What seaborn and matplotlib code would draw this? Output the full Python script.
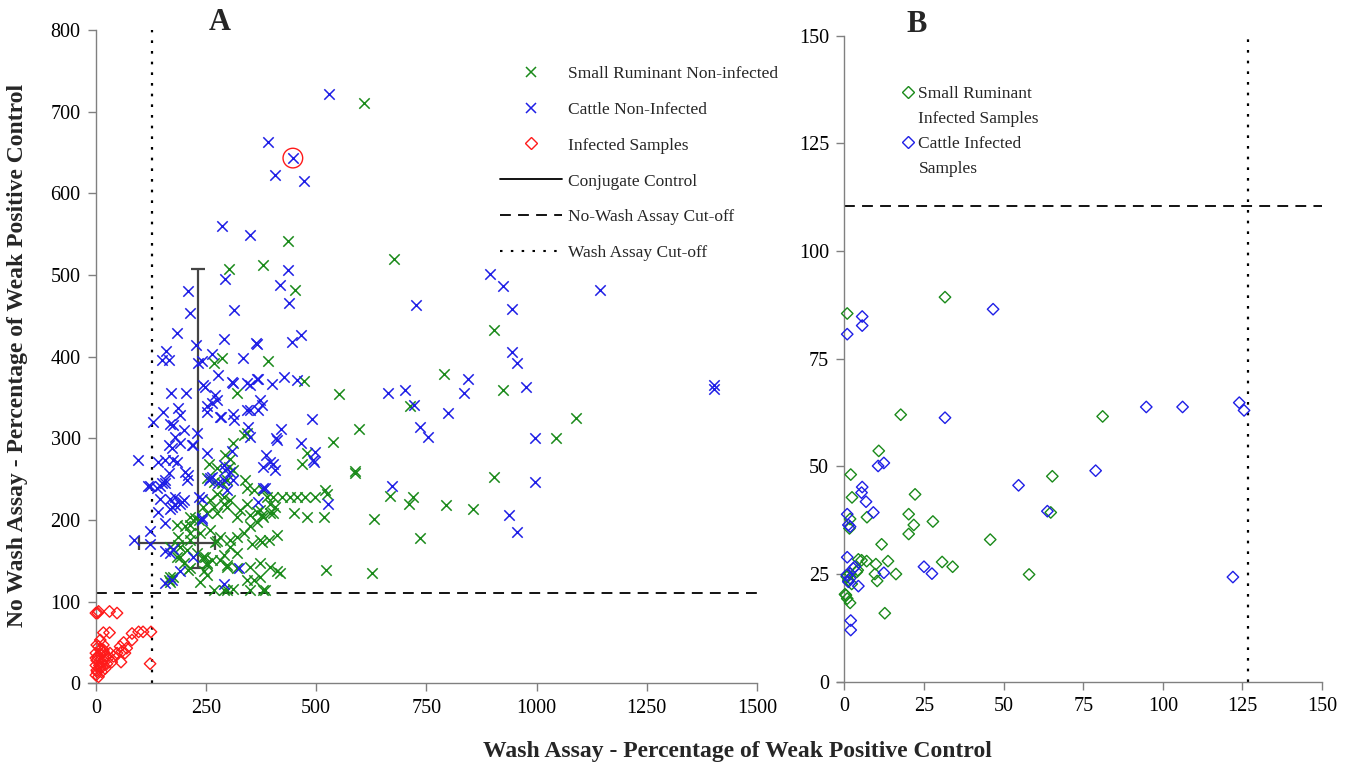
import matplotlib
matplotlib.use("Agg")
import matplotlib.pyplot as plt
import seaborn as sns
from matplotlib.lines import Line2D

# ---- Panel A data (wash %, no-wash %) ----
sr_non_x = [609, 435, 379, 301, 452, 677, 903, 390, 267, 286, 473, 791, 924, 551, 320,
            712, 596, 537, 903, 587, 589, 479, 468, 668, 710, 720, 794, 856, 736, 626,
            523, 632, 517, 479, 449, 520, 524, 498, 475, 456, 441, 422, 403, 388, 1045,
            1089, 403, 377, 365, 350, 411, 392, 377, 354, 350, 373, 395, 411, 418, 358,
            384, 350, 297, 312, 267, 320, 297, 290, 271, 275, 248, 252, 246, 214, 191,
            187, 184, 169, 165, 214, 225, 233, 312, 335, 343, 294, 305, 256, 275, 301,
            312, 252, 267, 286, 297, 339, 343, 358, 380, 275, 290, 305, 290, 297, 259,
            267, 252, 275, 244, 203, 214, 187, 214, 237, 259, 282, 305, 320, 335, 350,
            365, 380, 396, 327, 343, 320, 396, 407, 373, 191, 207, 229, 244, 169, 214,
            184, 199, 210, 252, 263, 297, 282, 305, 320, 373, 343, 373, 176, 169, 252,
            237, 290, 380]
sr_non_y = [711, 541, 512, 507, 482, 519, 432, 395, 392, 398, 370, 379, 359, 354, 356,
            339, 311, 296, 252, 258, 260, 282, 269, 229, 220, 228, 218, 213, 178, 135,
            139, 201, 204, 203, 208, 237, 232, 228, 228, 228, 228, 228, 228, 228, 300,
            325, 209, 206, 210, 206, 181, 175, 173, 171, 143, 147, 143, 137, 135, 126,
            114, 114, 114, 116, 114, 141, 145, 157, 173, 174, 155, 145, 137, 141, 155,
            169, 194, 130, 126, 204, 202, 200, 294, 304, 306, 279, 275, 269, 263, 265,
            261, 251, 247, 245, 249, 249, 239, 237, 237, 232, 228, 224, 220, 216, 224,
            216, 208, 208, 216, 192, 194, 179, 184, 184, 188, 179, 175, 179, 184, 192,
            198, 204, 208, 212, 220, 204, 220, 216, 212, 167, 163, 159, 155, 167, 175,
            155, 147, 139, 147, 151, 143, 151, 167, 159, 175, 126, 130, 130, 124, 132,
            124, 114, 114]

cattle_non_x = [530, 390, 447, 407, 473, 287, 349, 435, 294, 417, 208, 438, 726, 214, 314,
                924, 894, 945, 185, 291, 364, 366, 465, 444, 228, 160, 150, 167, 264, 232,
                241, 334, 945, 956, 277, 244, 247, 309, 312, 343, 349, 365, 369, 400, 427,
                456, 845, 836, 702, 664, 975, 170, 205, 271, 1145, 1403, 1403, 800, 736, 754,
                721, 490, 938, 956, 672, 527, 465, 498, 492, 494, 408, 410, 420, 387, 402,
                407, 384, 369, 325, 291, 346, 349, 312, 314, 282, 252, 275, 263, 373, 377,
                369, 350, 309, 290, 294, 290, 297, 263, 256, 278, 252, 233, 241, 996, 996,
                95, 129, 153, 187, 191, 169, 176, 199, 229, 165, 172, 191, 221, 142, 157,
                176, 203, 210, 207, 157, 165, 123, 146, 157, 146, 169, 180, 195, 172, 142,
                157, 122, 87, 122, 157, 169, 176, 191, 172, 157, 221, 252, 284, 343, 180,
                218, 184, 119, 138, 150, 180, 191, 169, 199, 241, 241, 305, 312, 260, 380,
                396, 380]
cattle_non_y = [722, 663, 643, 622, 615, 560, 549, 506, 495, 488, 480, 466, 463, 453, 457,
                486, 501, 458, 429, 422, 417, 415, 427, 418, 414, 407, 396, 396, 403, 392,
                394, 398, 405, 392, 377, 365, 363, 369, 368, 368, 365, 373, 372, 366, 375,
                371, 372, 356, 359, 355, 363, 355, 356, 353, 482, 365, 360, 331, 314, 301,
                341, 323, 206, 185, 242, 220, 294, 283, 273, 271, 300, 298, 311, 279, 269,
                261, 239, 222, 141, 122, 314, 302, 330, 322, 326, 332, 347, 343, 347, 341,
                335, 335, 284, 267, 261, 249, 237, 253, 249, 245, 282, 228, 200, 300, 246,
                274, 320, 332, 337, 328, 318, 316, 310, 306, 292, 288, 294, 292, 271, 273,
                273, 259, 255, 249, 249, 257, 241, 241, 245, 226, 226, 218, 222, 216, 210,
                196, 186, 176, 170, 162, 159, 165, 137, 126, 123, 155, 339, 326, 335, 302,
                292, 271, 241, 239, 245, 228, 220, 214, 224, 226, 202, 259, 249, 251, 265,
                271, 239]

infected_x = [0, 4, 6, 31, 48, 17, 31, 82, 97, 107, 125, 63, 82, 55, 70, 59, 66, 40, 48, 36,
              57, 123, 10, 6, 17, 0, 10, 21, 2, 13, 25, 0, 10, 21, 2, 13, 0, 6, 17, 28, 32,
              0, 10, 17, 2, 4, 8, 14, 3, 18]
infected_y = [86, 86, 88, 88, 86, 62, 62, 61, 63, 63, 63, 50, 53, 45, 43, 39, 37, 33, 37, 26,
              26, 24, 53, 45, 41, 37, 35, 33, 28, 26, 24, 22, 20, 18, 16, 14, 10, 8, 28, 31,
              37, 31, 41, 47, 47, 32, 22, 20, 14, 38]

circled_x = [447]
circled_y = [643]

# conjugate control: mean and range
conj_x, conj_y = 231, 172
conj_x_range = (99, 271)
conj_y_range = (141, 507)

nowash_cutoff = 110.5
wash_cutoff = 126.7

# ---- Panel B data ----
sr_inf_x = [31.6, 0.9, 17.7, 81.1, 65.3, 10.8, 2.0, 2.4, 22.2, 20.2, 21.8, 27.8, 20.2, 7.1,
            1.8, 1.6, 11.7, 45.8, 64.8, 58.0, 30.7, 34.0, 4.4, 5.4, 7.0, 9.9, 13.7, 9.6,
            10.3, 16.2, 3.9, 12.7, 0.5, 0.9, 1.8, 0.75, 1.8, 2.3, 4.2, 0.2, 1.25]
sr_inf_y = [89.3, 85.5, 62.0, 61.6, 47.7, 53.6, 48.1, 42.8, 43.5, 38.9, 36.4, 37.2, 34.3, 38.2,
            37.8, 35.6, 31.9, 33.0, 39.3, 24.9, 27.8, 26.7, 28.4, 28.2, 28.0, 27.3, 28.0, 25.0,
            23.4, 25.0, 25.5, 15.9, 20.1, 19.3, 18.3, 24.4, 25.1, 22.7, 25.9, 20.3, 23.6]

cattle_inf_x = [46.7, 5.6, 5.6, 0.9, 31.6, 10.6, 12.4, 54.7, 5.6, 5.4, 6.8, 9.1, 0.9, 1.25,
                1.8, 63.75, 0.9, 3.3, 2.8, 12.4, 25.0, 27.5, 0.75, 1.25, 1.8, 4.4, 2.0, 2.0,
                94.8, 106.2, 124.0, 125.5, 78.9, 122.0]
cattle_inf_y = [86.5, 84.8, 82.7, 80.7, 61.3, 50.1, 50.8, 45.6, 45.2, 43.9, 41.8, 39.3, 38.9,
                36.4, 36.0, 39.6, 28.9, 26.7, 26.3, 25.3, 26.7, 25.1, 24.8, 23.2, 24.0, 22.2,
                14.2, 12.0, 63.8, 63.8, 64.8, 63.0, 49.0, 24.3]

green = "#1a8a1a"
blue = "#1f1fe6"
red = "#ff1a1a"
axis_grey = "#808080"

sns.set_theme(style="ticks")
plt.rcParams['font.family'] = ['Liberation Serif', 'DejaVu Serif']

fig = plt.figure(figsize=(13.55, 7.67), dpi=100)
axA = fig.add_axes([0.0649, 0.1091, 0.4937, 0.852])
axB = fig.add_axes([0.6175, 0.1112, 0.3582, 0.8422])

# Panel A
axA.hlines(nowash_cutoff, 0, 1500, colors="black", lw=1.3, linestyles=(0, (6, 4)), zorder=1)
axA.vlines(wash_cutoff, 0, 800, colors="black", lw=1.6, linestyles=(0, (1.2, 3.6)), zorder=1)
axA.errorbar(conj_x, conj_y,
             xerr=[[conj_x - conj_x_range[0]], [conj_x_range[1] - conj_x]],
             yerr=[[conj_y - conj_y_range[0]], [conj_y_range[1] - conj_y]],
             fmt="none", ecolor="#444444", elinewidth=1.6, capsize=5, capthick=1.6, zorder=2)
sns.scatterplot(x=sr_non_x, y=sr_non_y, marker="x", color=green, s=56, linewidth=1.1,
                ax=axA, legend=False, zorder=3)
sns.scatterplot(x=cattle_non_x, y=cattle_non_y, marker="x", color=blue, s=56, linewidth=1.1,
                ax=axA, legend=False, zorder=3)
sns.scatterplot(x=infected_x, y=infected_y, marker="D", color=red, facecolor="none",
                edgecolor=red, s=34, linewidth=1.0, ax=axA, legend=False, zorder=3)
sns.scatterplot(x=circled_x, y=circled_y, marker="o", color=red, facecolor="none",
                edgecolor=red, s=200, linewidth=1.0, ax=axA, legend=False, zorder=4)

axA.set_xlim(-18, 1500)
axA.set_ylim(0, 800)
axA.set_xticks(range(0, 1501, 250))
axA.set_yticks(range(0, 801, 100))

# Panel B
axB.hlines(nowash_cutoff, 0, 150, colors="black", lw=1.3, linestyles=(0, (6, 4)), zorder=1)
axB.vlines(wash_cutoff, 0, 150, colors="black", lw=1.6, linestyles=(0, (1.2, 3.6)), zorder=1)
sns.scatterplot(x=sr_inf_x, y=sr_inf_y, marker="D", color=green, facecolor="none",
                edgecolor=green, s=34, linewidth=1.0, ax=axB, legend=False, zorder=3)
sns.scatterplot(x=cattle_inf_x, y=cattle_inf_y, marker="D", color=blue, facecolor="none",
                edgecolor=blue, s=34, linewidth=1.0, ax=axB, legend=False, zorder=3)
axB.set_xlim(-2.4, 150)
axB.set_ylim(0, 150)
axB.set_xticks(range(0, 151, 25))
axB.set_yticks(range(0, 151, 25))

for ax in (axA, axB):
    ax.set_facecolor("white")
    ax.spines["top"].set_visible(False)
    ax.spines["right"].set_visible(False)
    ax.spines["left"].set_position(("data", 0))
    for s in ("left", "bottom"):
        ax.spines[s].set_color(axis_grey)
        ax.spines[s].set_linewidth(1.0)
    ax.tick_params(direction="out", length=6, width=1, color=axis_grey,
                   labelsize=14.5, labelcolor="black", pad=5)
    ax.set_xlabel("")
    ax.set_ylabel("")

# Legends
legA = [
    Line2D([], [], marker="x", ls="none", color=green, ms=7.5, mew=1.1),
    Line2D([], [], marker="x", ls="none", color=blue, ms=7.5, mew=1.1),
    Line2D([], [], marker="D", ls="none", mfc="none", mec=red, ms=5.8, mew=1.0),
    Line2D([], [], color="black", lw=1.3),
    Line2D([], [], color="black", lw=1.3, ls=(0, (6, 4))),
    Line2D([], [], color="black", lw=1.5, ls=(0, (1.2, 4))),
]
labA = ["Small Ruminant Non-infected", "Cattle Non-Infected", "Infected Samples",
        "Conjugate Control", "No-Wash Assay Cut-off", "Wash Assay Cut-off"]
lg = axA.legend(legA, labA, loc="upper left", bbox_to_anchor=(0.605, 0.956),
                frameon=True, facecolor="white", edgecolor="none", framealpha=1,
                fancybox=False, fontsize=12.5, handlelength=3.6, handletextpad=0.35,
                labelspacing=1.14, borderpad=0.4, borderaxespad=0)
lg.set_zorder(5)

legB = [
    Line2D([], [], marker="D", ls="none", mfc="none", mec=green, ms=5.8, mew=1.0),
    Line2D([], [], ls="none"),
    Line2D([], [], marker="D", ls="none", mfc="none", mec=blue, ms=5.8, mew=1.0),
    Line2D([], [], ls="none"),
]
labB = ["Small Ruminant", "Infected Samples", "Cattle Infected", "Samples"]
axB.legend(legB, labB, loc="upper left", bbox_to_anchor=(0.1325, 0.922), frameon=False,
           fontsize=12.5, handlelength=0.8, handletextpad=0.2, labelspacing=0.5,
           borderpad=0, borderaxespad=0)

# Axis titles and panel letters
fig.text(737 / 1355, 1 - 752 / 767, "Wash Assay - Percentage of Weak Positive Control",
         ha="center", va="center", fontsize=17, fontweight="bold")
fig.text(18 / 1355, 1 - 355 / 767, "No Wash Assay - Percentage of Weak Positive Control",
         ha="center", va="center", rotation=90, fontsize=17, fontweight="bold")
fig.text(220 / 1355, 1 - 22 / 767, "A", ha="center", va="center", fontsize=22,
         fontweight="bold")
fig.text(917 / 1355, 1 - 25 / 767, "B", ha="center", va="center", fontsize=22,
         fontweight="bold")

fig.savefig("out.png", dpi=100, facecolor="white")
